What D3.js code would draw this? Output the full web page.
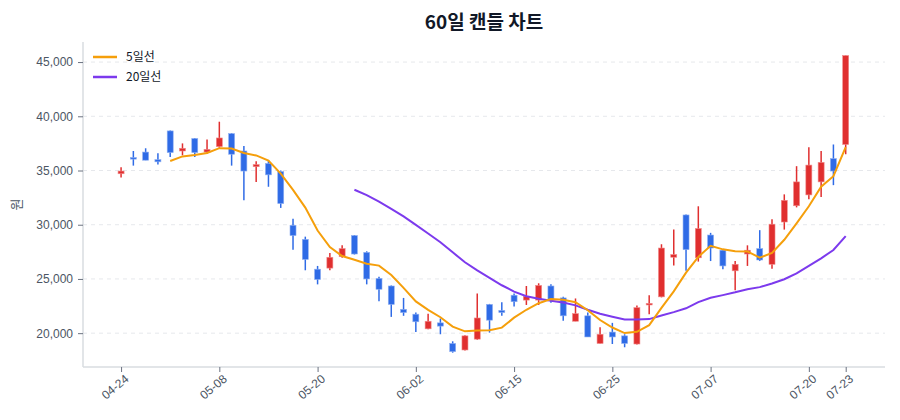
<!DOCTYPE html>
<html>
<head>
<meta charset="utf-8">
<script src="https://cdn.jsdelivr.net/npm/d3@7"></script>
<style>
    body { margin: 0; background: #fff; }
    svg { font-family: "Noto Sans CJK KR", "Noto Sans", sans-serif; }
</style>
</head>
<body>
<svg id="chart" width="900" height="420"></svg>
<script>

var dates = ["04-24","04-25","04-28","04-29","04-30","05-02","05-06","05-07","05-08",
    "05-09","05-12","05-13","05-14","05-15","05-16","05-19","05-20",
    "05-21","05-22","05-23","05-26","05-27","05-28","05-30","06-02",
    "06-03","06-04","06-05","06-09","06-10","06-11","06-13","06-15",
    "06-16","06-17","06-18","06-19","06-20","06-23","06-24","06-25",
    "06-26","06-27","06-30","07-01","07-02","07-03","07-04","07-07",
    "07-08","07-09","07-10","07-11","07-14","07-15","07-17","07-20",
    "07-21","07-22","07-23"];

var opens = [34700,36200,36700,36000,38650,36800,37950,36700,37200,38400,
    36800,35350,35650,34900,29950,28650,25900,26000,27050,29000,
    27450,25050,24350,22200,21750,20400,20950,19050,18450,19450,
    22650,22100,23500,23050,23050,24350,23250,21100,21600,19050,
    20100,19750,19000,22600,23350,27000,30900,26950,29050,27650,
    25750,27300,27800,26350,30250,31750,32750,33950,36100,37400];
var highs = [35300,36800,37050,36600,38700,37500,38000,37850,39500,38450,
    37250,35850,35950,35000,30550,28900,26200,27400,28100,29050,
    27550,25200,24400,23250,21900,21800,21350,19250,19800,23650,
    22700,22850,23650,24350,24600,24500,23350,23200,21900,20550,
    20950,19900,22550,23500,28200,29550,30950,31700,29250,27700,
    26650,28100,29500,30500,32800,35400,37150,36800,37400,45600];
var lows = [34350,35450,35950,35550,36250,36400,36250,36550,37100,35450,
    32250,33950,33500,31550,27700,25800,24500,25800,26950,27250,
    24500,22950,21500,21600,20100,20350,19900,18200,18400,19400,
    20050,21600,22450,22600,22600,22800,21150,21100,19650,19050,
    19000,18700,18950,21750,23300,26250,25750,26600,26650,25900,
    23950,26200,26650,25950,29550,31600,32350,32550,33650,36500];
var closes = [34950,36050,35950,35800,36650,37050,36650,36950,38000,36500,
    34950,35550,34600,31950,29000,26800,24950,27000,27800,27300,
    25000,24050,22650,21900,21050,21100,20650,18300,19750,21400,
    21200,21900,22900,23400,24400,23100,21600,21800,19650,19900,
    19650,19050,22350,22750,27850,27250,27700,29650,27850,26200,
    26350,27650,26750,30050,32250,33950,35500,35750,34950,45600];

var tickLabels = ["04-24","05-08","05-20","06-02","06-15","06-25","07-07","07-20","07-23"];
var yTicks = [20000, 25000, 30000, 35000, 40000, 45000];

var upColor = "#e02f2f", downColor = "#2f6be6";
var ma5Color = "#f59f0b", ma20Color = "#7c3aed";

var margin = {top: 42, right: 15, bottom: 53, left: 83};
var width = 900 - margin.left - margin.right;
var height = 420 - margin.top - margin.bottom;

var svg = d3.select("#chart");
var g = svg.append("g").attr("transform", "translate(" + margin.left + "," + margin.top + ")");

var x = d3.scaleLinear().domain([-3.1, 62.2]).range([0, width]);
var y = d3.scaleLinear().domain([16880, 46850]).range([height, 0]);

// moving averages from closes
function movingAvg(n) {
    return closes.map(function(c, i) {
        return i < n - 1 ? null : d3.mean(closes.slice(i - n + 1, i + 1));
    });
}
var ma5 = movingAvg(5), ma20 = movingAvg(20);

// gridlines
g.append("g")
    .selectAll("line")
    .data(yTicks)
    .enter()
    .append("line")
    .attr("x1", 0).attr("x2", width)
    .attr("y1", function(d) { return y(d); })
    .attr("y2", function(d) { return y(d); })
    .attr("stroke", "#e6e8ec")
    .attr("stroke-width", 1)
    .attr("stroke-dasharray", "4,4");

// y axis
var yAxis = g.append("g")
    .call(d3.axisLeft(y).tickValues(yTicks).tickFormat(d3.format(",")).tickSize(5).tickPadding(5));
yAxis.select(".domain").attr("stroke", "#d9dce1").attr("stroke-width", 1.5)
    .attr("d", "M0,0V" + height);
yAxis.selectAll(".tick line").attr("stroke", "#6b7280");
yAxis.selectAll(".tick text").attr("fill", "#4b5563").style("font-size", "12px");

// x axis
var tickIdx = dates.map(function(d, i) { return i; })
    .filter(function(i) { return tickLabels.indexOf(dates[i]) >= 0; });
var xAxis = g.append("g")
    .attr("transform", "translate(0," + height + ")")
    .call(d3.axisBottom(x).tickValues(tickIdx)
        .tickFormat(function(i) { return dates[i]; }).tickSize(5));
xAxis.select(".domain").attr("stroke", "#d9dce1").attr("stroke-width", 1.5)
    .attr("d", "M0,0H" + width);
xAxis.selectAll(".tick line").attr("stroke", "#6b7280");
xAxis.selectAll(".tick text")
    .attr("fill", "#4b5563")
    .style("font-size", "12px")
    .style("text-anchor", "end")
    .attr("dx", "-0.2em")
    .attr("dy", "0.6em")
    .attr("transform", "rotate(-40)");

// candles
var idx = d3.range(closes.length);
var candles = g.append("g").selectAll("g")
    .data(idx)
    .enter()
    .append("g");

candles.append("line")
    .attr("x1", function(i) { return x(i); })
    .attr("x2", function(i) { return x(i); })
    .attr("y1", function(i) { return y(highs[i]); })
    .attr("y2", function(i) { return y(lows[i]); })
    .attr("stroke", function(i) { return closes[i] >= opens[i] ? upColor : downColor; })
    .attr("stroke-width", 1.5);

candles.append("rect")
    .attr("x", function(i) { return x(i) - 3; })
    .attr("width", 6)
    .attr("y", function(i) { return y(Math.max(opens[i], closes[i])); })
    .attr("height", function(i) { return Math.max(1.5, Math.abs(y(opens[i]) - y(closes[i]))); })
    .attr("fill", function(i) { return closes[i] >= opens[i] ? upColor : downColor; })
    .attr("stroke", function(i) { return closes[i] >= opens[i] ? "#f08a8a" : "#8fb0f2"; })
    .attr("stroke-width", 0.6);

// moving average lines
var line = d3.line()
    .defined(function(d) { return d != null; })
    .x(function(d, i) { return x(i); })
    .y(function(d) { return y(d); });

g.append("path").datum(ma20)
    .attr("d", line).attr("fill", "none")
    .attr("stroke", ma20Color).attr("stroke-width", 2);
g.append("path").datum(ma5)
    .attr("d", line).attr("fill", "none")
    .attr("stroke", ma5Color).attr("stroke-width", 2);

// legend
var legend = g.append("g").attr("transform", "translate(10,15)");
[["5일선", ma5Color], ["20일선", ma20Color]].forEach(function(d, k) {
    legend.append("line")
        .attr("x1", 0).attr("x2", 24)
        .attr("y1", k * 20).attr("y2", k * 20)
        .attr("stroke", d[1]).attr("stroke-width", 2.5);
    legend.append("text")
        .attr("x", 33).attr("y", k * 20)
        .attr("dy", "0.35em")
        .attr("fill", "#111827")
        .style("font-size", "12px")
        .text(d[0]);
});

// title and y label
svg.append("text")
    .attr("x", margin.left + width / 2)
    .attr("y", 29)
    .attr("text-anchor", "middle")
    .attr("fill", "#111827")
    .style("font-size", "19px")
    .style("font-weight", "bold")
    .text("60일 캔들 차트");

svg.append("text")
    .attr("transform", "translate(21," + (margin.top + height / 2) + ") rotate(-90)")
    .attr("text-anchor", "middle")
    .attr("fill", "#4b5563")
    .style("font-size", "13px")
    .text("원");

</script>
</body>
</html>
